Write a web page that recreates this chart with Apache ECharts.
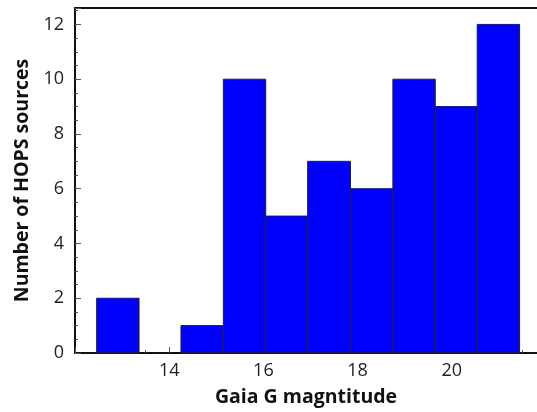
<!DOCTYPE html>
<html>
<head>
<meta charset="utf-8">
<script src="https://cdn.jsdelivr.net/npm/echarts@6/dist/echarts.min.js"></script>
<style>
  html, body { margin: 0; padding: 0; background: #fff; }
  #chart { width: 537px; height: 412px; }
</style>
</head>
<body>
<div id="chart"></div>
<script>
  // histogram bin edges (Gaia G mag) and counts per bin
  var binStarts = [12.46, 13.36, 14.25, 15.15, 16.05, 16.94, 17.85, 18.75, 19.65, 20.54]
  var binEnds = [13.36, 14.25, 15.15, 16.05, 16.94, 17.85, 18.75, 19.65, 20.54, 21.44]
  var counts = [2, 0, 1, 10, 5, 7, 6, 10, 9, 12]

  var histData = binStarts.map(function (s, i) {
    return [s, binEnds[i], counts[i]]
  })

  var font = 'Open Sans'
  var myChart = echarts.init(document.getElementById('chart'))
  myChart.setOption({
    animation: false,
    grid: {
      left: 75,
      top: 8,
      bottom: 58,
      right: 0
    },
    xAxis: [{
      type: 'value',
      min: 12,
      max: 21.81,
      interval: 2,
      name: 'Gaia G magntitude',
      nameLocation: 'middle',
      nameGap: 34,
      nameTextStyle: {
        fontFamily: font,
        fontWeight: 'bold',
        fontSize: 19.5,
        color: '#111'
      },
      axisLine: { lineStyle: { color: '#111', width: 2 } },
      axisTick: { inside: true, length: 6, lineStyle: { color: '#555' } },
      minorTick: { show: true, splitNumber: 4, length: 3, lineStyle: { color: '#555' } },
      axisLabel: {
        showMinLabel: false,
        showMaxLabel: false,
        margin: 9,
        fontFamily: font,
        fontSize: 18,
        color: '#222'
      },
      splitLine: { show: false }
    }, {
      type: 'value',
      position: 'top',
      min: 12,
      max: 21.81,
      axisLine: { show: true, onZero: false, lineStyle: { color: '#111', width: 2 } },
      axisTick: { show: false },
      axisLabel: { show: false },
      splitLine: { show: false }
    }],
    yAxis: {
      type: 'value',
      min: 0,
      max: 12.6,
      interval: 2,
      name: 'Number of HOPS sources',
      nameLocation: 'middle',
      nameGap: 36,
      nameTextStyle: {
        fontFamily: font,
        fontWeight: 'bold',
        fontSize: 19.5,
        color: '#111'
      },
      axisLine: { show: true, lineStyle: { color: '#111', width: 2 } },
      axisTick: { inside: true, length: 6, lineStyle: { color: '#555' } },
      minorTick: { show: true, splitNumber: 4, length: 3, lineStyle: { color: '#555' } },
      axisLabel: {
        showMaxLabel: false,
        margin: 11,
        fontFamily: font,
        fontSize: 18,
        color: '#222'
      },
      splitLine: { show: false }
    },
    series: [{
      type: 'custom',
      xAxisIndex: 0,
      data: histData,
      encode: { x: [0, 1], y: 2 },
      renderItem: function (params, api) {
        if (api.value(2) <= 0) return
        var p0 = api.coord([api.value(0), 0])
        var p1 = api.coord([api.value(1), api.value(2)])
        return {
          type: 'rect',
          shape: { x: p0[0], y: p1[1], width: p1[0] - p0[0], height: p0[1] - p1[1] },
          style: { fill: '#0000ff', stroke: '#222', lineWidth: 1 }
        }
      }
    }]
  })
</script>
</body>
</html>
